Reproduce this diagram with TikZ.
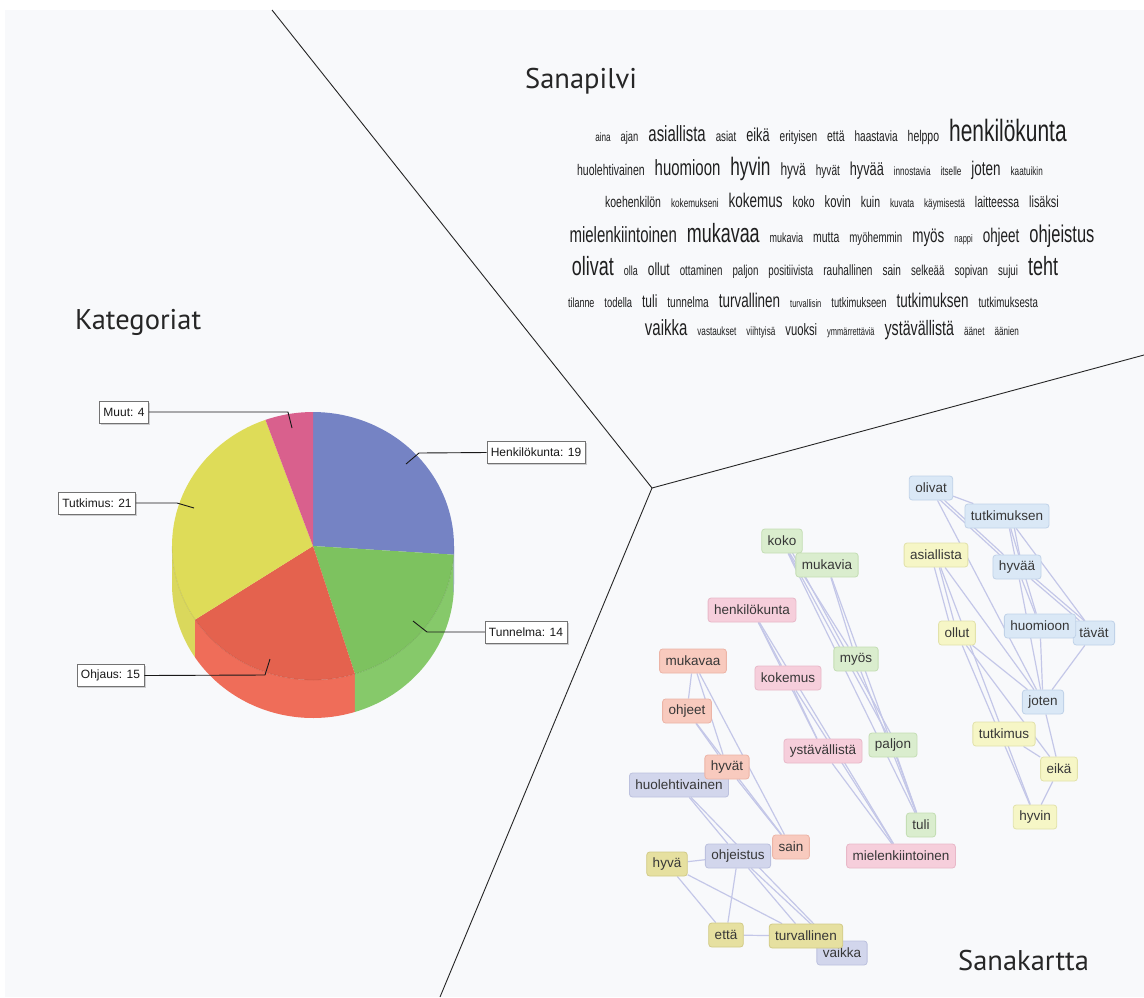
\documentclass[tikz,border=0pt]{standalone}
\usepackage{fontspec}
\setmainfont{Liberation Sans}
\newfontfamily\titlefont{PT Sans}
\newfontfamily\cloudfont[FakeStretch=0.68]{Liberation Sans}
\usetikzlibrary{shadows}
\pgfdeclarelayer{backlayer}
\pgfdeclarelayer{edgelayer}
\pgfsetlayers{backlayer,edgelayer,main}

\definecolor{bgpanel}{RGB}{248,249,251}
\definecolor{pieblue}{RGB}{117,131,196}
\definecolor{piegreen}{RGB}{125,194,95}
\definecolor{piegreenside}{RGB}{134,201,106}
\definecolor{piered}{RGB}{228,98,78}
\definecolor{pieredside}{RGB}{239,109,89}
\definecolor{pieyellow}{RGB}{222,220,88}
\definecolor{pieyellowside}{RGB}{218,216,92}
\definecolor{piepink}{RGB}{217,96,141}
\definecolor{edgecol}{RGB}{196,199,232}
\definecolor{fgreen}{RGB}{218,237,206}
\definecolor{dgreen}{RGB}{196,222,180}
\definecolor{fpink}{RGB}{246,206,219}
\definecolor{dpink}{RGB}{232,184,200}
\definecolor{fsalmon}{RGB}{248,202,190}
\definecolor{dsalmon}{RGB}{236,180,166}
\definecolor{flav}{RGB}{210,214,236}
\definecolor{dlav}{RGB}{188,193,222}
\definecolor{fsky}{RGB}{218,232,246}
\definecolor{dsky}{RGB}{192,210,232}
\definecolor{fyel}{RGB}{246,246,198}
\definecolor{dyel}{RGB}{226,226,170}
\definecolor{folive}{RGB}{230,224,160}
\definecolor{dolive}{RGB}{210,203,136}
\definecolor{wmtext}{RGB}{55,55,55}

\newcommand\cwd[2]{{\fontsize{#1}{#1}\selectfont #2}}
\newcommand\cwgap{\hspace{10pt}}

\tikzset{
  divider/.style={draw=black!85, line width=0.9pt},
  titletext/.style={font=\titlefont\fontsize{28.5}{28.5}\selectfont, text=black!85, inner sep=0pt, anchor=base west},
  cloudline/.style={font=\cloudfont, text=black!88, inner sep=0pt, anchor=base},
  plabel/.style={draw=black!55, fill=white, font=\fontsize{12}{12}\selectfont, text=black!90,
    inner xsep=4pt, inner ysep=0pt, minimum height=22pt,
    drop shadow={shadow xshift=1.5pt, shadow yshift=-1.5pt, opacity=0.35}},
  leader/.style={draw=black!90, line width=0.9pt},
  wm/.style={rounded corners=3pt, font=\fontsize{13.5}{13.5}\selectfont, text=wmtext,
    minimum height=24pt, inner xsep=6pt, inner ysep=0pt, line width=0.8pt},
  wgreen/.style={wm, fill=fgreen, draw=dgreen},
  wpink/.style={wm, fill=fpink, draw=dpink},
  wsalmon/.style={wm, fill=fsalmon, draw=dsalmon},
  wlav/.style={wm, fill=flav, draw=dlav},
  wsky/.style={wm, fill=fsky, draw=dsky},
  wyel/.style={wm, fill=fyel, draw=dyel},
  wolive/.style={wm, fill=folive, draw=dolive},
  wedge/.style={draw=edgecol, line width=1.2pt},
}

\begin{document}
\begin{tikzpicture}[x=1pt,y=-1pt]
\useasboundingbox (0,0) rectangle (1144,997);
\begin{pgfonlayer}{backlayer}
\fill[white] (0,0) rectangle (1144,997);
\fill[bgpanel] (5,10) rectangle (1144,997);
\end{pgfonlayer}

% dividers
\coordinate (ctr) at (652,488);
\coordinate (dTop) at (272,10);
\coordinate (dRight) at (1144,355);
\coordinate (dBottom) at (440,997);
\draw[divider] (ctr) -- (dTop);
\draw[divider] (ctr) -- (dRight);
\draw[divider] (ctr) -- (dBottom);

% titles
\node[titletext] (tSanapilvi) at (525,88) {Sanapilvi};
\node[titletext] (tKategoriat) at (75,329) {Kategoriat};
\node[titletext] (tSanakartta) at (958,970) {Sanakartta};

% word cloud
\node[cloudline] (cl1) at (831,141) {\cwd{12}{aina}\cwgap\cwd{13.8}{ajan}\cwgap\cwd{22}{asiallista}\cwgap\cwd{14.3}{asiat}\cwgap\cwd{18.7}{eikä}\cwgap\cwd{14.8}{erityisen}\cwgap\cwd{15.4}{että}\cwgap\cwd{14.8}{haastavia}\cwgap\cwd{15.4}{helppo}\cwgap\cwd{30.8}{henkilökunta}};
\node[cloudline] (cl2) at (810,175) {\cwd{15.4}{huolehtivainen}\cwgap\cwd{22}{huomioon}\cwgap\cwd{25.3}{hyvin}\cwgap\cwd{17.6}{hyvä}\cwgap\cwd{14.8}{hyvät}\cwgap\cwd{18.7}{hyvää}\cwgap\cwd{12}{innostavia}\cwgap\cwd{12}{itselle}\cwgap\cwd{19.8}{joten}\cwgap\cwd{12}{kaatuikin}};
\node[cloudline] (cl3) at (832,207) {\cwd{15.4}{koehenkilön}\cwgap\cwd{12}{kokemukseni}\cwgap\cwd{19.8}{kokemus}\cwgap\cwd{15.4}{koko}\cwgap\cwd{16.5}{kovin}\cwgap\cwd{15.4}{kuin}\cwgap\cwd{12}{kuvata}\cwgap\cwd{12}{käymisestä}\cwgap\cwd{15.4}{laitteessa}\cwgap\cwd{16}{lisäksi}};
\node[cloudline] (cl4) at (832,242) {\cwd{22}{mielenkiintoinen}\cwgap\cwd{26.4}{mukavaa}\cwgap\cwd{13.2}{mukavia}\cwgap\cwd{15.4}{mutta}\cwgap\cwd{14.3}{myöhemmin}\cwgap\cwd{19.8}{myös}\cwgap\cwd{11}{nappi}\cwgap\cwd{19.8}{ohjeet}\cwgap\cwd{24.2}{ohjeistus}};
\node[cloudline] (cl5) at (815,275) {\cwd{26.4}{olivat}\cwgap\cwd{13.2}{olla}\cwgap\cwd{17.6}{ollut}\cwgap\cwd{14.3}{ottaminen}\cwgap\cwd{14.3}{paljon}\cwgap\cwd{14.3}{positiivista}\cwgap\cwd{14.8}{rauhallinen}\cwgap\cwd{14.8}{sain}\cwgap\cwd{14.3}{selkeää}\cwgap\cwd{14.3}{sopivan}\cwgap\cwd{14.3}{sujui}\cwgap\cwd{26.4}{teht}};
\node[cloudline] (cl6) at (803,307) {\cwd{13.2}{tilanne}\cwgap\cwd{13.8}{todella}\cwgap\cwd{17.6}{tuli}\cwgap\cwd{14.8}{tunnelma}\cwgap\cwd{19.8}{turvallinen}\cwgap\cwd{11}{turvallisin}\cwgap\cwd{13.8}{tutkimukseen}\cwgap\cwd{19.8}{tutkimuksen}\cwgap\cwd{14.3}{tutkimuksesta}};
\node[cloudline] (cl7) at (832,335) {\cwd{22}{vaikka}\cwgap\cwd{12}{vastaukset}\cwgap\cwd{12}{viihtyisä}\cwgap\cwd{16.5}{vuoksi}\cwgap\cwd{11}{ymmärrettäviä}\cwgap\cwd{20.9}{ystävällistä}\cwgap\cwd{12}{äänet}\cwgap\cwd{12}{äänien}};

% pie chart (3D)
\def\pcx{313}\def\pcy{546}\def\prx{141}\def\pry{134}\def\pdp{38}
% sides
\fill[pieyellowside] plot[domain=180:213.3,samples=30] ({\pcx+\prx*cos(\x)},{\pcy-\pry*sin(\x)}) -- plot[domain=213.3:180,samples=30] ({\pcx+\prx*cos(\x)},{\pcy+\pdp-\pry*sin(\x)}) -- cycle;
\fill[pieredside] plot[domain=213.3:287.3,samples=40] ({\pcx+\prx*cos(\x)},{\pcy-\pry*sin(\x)}) -- plot[domain=287.3:213.3,samples=40] ({\pcx+\prx*cos(\x)},{\pcy+\pdp-\pry*sin(\x)}) -- cycle;
\fill[piegreenside] plot[domain=287.3:356.3,samples=40] ({\pcx+\prx*cos(\x)},{\pcy-\pry*sin(\x)}) -- plot[domain=356.3:287.3,samples=40] ({\pcx+\prx*cos(\x)},{\pcy+\pdp-\pry*sin(\x)}) -- cycle;
\fill[pieblue] plot[domain=356.3:360,samples=5] ({\pcx+\prx*cos(\x)},{\pcy-\pry*sin(\x)}) -- plot[domain=360:356.3,samples=5] ({\pcx+\prx*cos(\x)},{\pcy+\pdp-\pry*sin(\x)}) -- cycle;
% top faces
\fill[pieblue] (\pcx,\pcy) -- plot[domain=-3.7:90,samples=40] ({\pcx+\prx*cos(\x)},{\pcy-\pry*sin(\x)}) -- cycle;
\fill[piegreen] (\pcx,\pcy) -- plot[domain=-72.7:-3.7,samples=40] ({\pcx+\prx*cos(\x)},{\pcy-\pry*sin(\x)}) -- cycle;
\fill[piered] (\pcx,\pcy) -- plot[domain=-146.7:-72.7,samples=40] ({\pcx+\prx*cos(\x)},{\pcy-\pry*sin(\x)}) -- cycle;
\fill[pieyellow] (\pcx,\pcy) -- plot[domain=109.7:213.3,samples=40] ({\pcx+\prx*cos(\x)},{\pcy-\pry*sin(\x)}) -- cycle;
\fill[piepink] (\pcx,\pcy) -- plot[domain=90:109.7,samples=10] ({\pcx+\prx*cos(\x)},{\pcy-\pry*sin(\x)}) -- cycle;
\draw[black, opacity=0.08, line width=0.8pt] plot[domain=180:360,samples=60] ({\pcx+\prx*cos(\x)},{\pcy-\pry*sin(\x)});

% pie labels
\node[plabel] (lMuut) at (124,412) {Muut: 4};
\node[plabel] (lHenk) at (536,452.5) {Henkilökunta: 19};
\node[plabel] (lTut) at (97,503) {Tutkimus: 21};
\node[plabel] (lTun) at (526,632) {Tunnelma: 14};
\node[plabel] (lOhj) at (110.5,675.5) {Ohjaus: 15};
\coordinate (kMuut1) at (288,412); \coordinate (kMuut2) at (292,428);
\coordinate (kHenk1) at (419,453); \coordinate (kHenk2) at (406,464);
\coordinate (kTut1) at (177,503);  \coordinate (kTut2) at (194,508);
\coordinate (kTun1) at (427,632);  \coordinate (kTun2) at (413,621);
\coordinate (kOhj1) at (265,675);  \coordinate (kOhj2) at (270,659);
\draw[leader] (lMuut.east) -- (kMuut1) -- (kMuut2);
\draw[leader] (lHenk.west) -- (kHenk1) -- (kHenk2);
\draw[leader] (lTut.east) -- (kTut1) -- (kTut2);
\draw[leader] (lTun.west) -- (kTun1) -- (kTun2);
\draw[leader] (lOhj.east) -- (kOhj1) -- (kOhj2);

% word map nodes
\node[wsky] (nOlivat) at (931,488) {olivat};
\node[wsky] (nTutkimuksen) at (1007,516) {tutkimuksen};
\node[wyel] (nAsiallista) at (936,555) {asiallista};
\node[wsky] (nHyvaa) at (1017,567) {hyvää};
\node[wyel] (nOllut) at (957,633) {ollut};
\node[wsky, anchor=east] (nTavat) at (1115,633) {tävät};
\node[wsky] (nHuomioon) at (1040,626) {huomioon};
\node[wsky] (nJoten) at (1043,702) {joten};
\node[wyel] (nTutkimus) at (1004,734) {tutkimus};
\node[wyel] (nEika) at (1059,769) {eikä};
\node[wyel] (nHyvin) at (1035,817) {hyvin};

\node[wgreen] (nKoko) at (782,541) {koko};
\node[wgreen] (nMukavia) at (827,565) {mukavia};
\node[wgreen] (nMyos) at (856,659) {myös};
\node[wgreen] (nPaljon) at (893,745) {paljon};
\node[wgreen] (nTuli) at (921,825) {tuli};
\node[wpink] (nHenk) at (752,610) {henkilökunta};
\node[wpink] (nKokemus) at (788,678) {kokemus};
\node[wpink] (nYstav) at (823,751) {ystävällistä};
\node[wpink] (nMielen) at (901,856) {mielenkiintoinen};

\node[wsalmon] (nMukavaa) at (693,661) {mukavaa};
\node[wsalmon] (nOhjeet) at (687,711) {ohjeet};
\node[wlav] (nHuoleh) at (679,785) {huolehtivainen};
\node[wsalmon] (nHyvat) at (727,767) {hyvät};
\node[wsalmon] (nSain) at (791,847) {sain};
\node[wlav] (nOhjeistus) at (738,856) {ohjeistus};
\node[wolive] (nHyva) at (667,864) {hyvä};
\node[wolive] (nEtta) at (726,935) {että};
\node[wlav] (nVaikka) at (842,953) {vaikka};
\node[wolive] (nTurva) at (806,936) {turvallinen};

\begin{pgfonlayer}{edgelayer}
% right cluster
\draw[wedge] (nOlivat) -- (nTutkimuksen);
\draw[wedge] (nOlivat) -- (nHyvaa);
\draw[wedge] ([xshift=-4pt]nOlivat.center) -- ([xshift=-4pt]nHyvaa.center);
\draw[wedge] (nOlivat) -- (nJoten);
\draw[wedge] (nTutkimuksen) -- (nHyvaa);
\draw[wedge] ([xshift=5pt]nTutkimuksen.center) -- ([xshift=5pt]nHyvaa.center);
\draw[wedge] (nTutkimuksen) -- (nTavat);
\draw[wedge] (nTutkimuksen) -- (nHuomioon);
\draw[wedge] (nHyvaa) -- (nHuomioon);
\draw[wedge] (nHyvaa) -- (nTavat);
\draw[wedge] ([yshift=4pt]nHyvaa.center) -- ([yshift=4pt]nTavat.center);
\draw[wedge] (nHyvaa) -- (nJoten);
\draw[wedge] (nHuomioon) -- (nJoten);
\draw[wedge] (nTavat) -- (nJoten);
\draw[wedge] (nAsiallista) -- (nOllut);
\draw[wedge] ([xshift=-5pt]nAsiallista.center) -- ([xshift=-5pt]nOllut.center);
\draw[wedge] (nAsiallista) -- (nJoten);
\draw[wedge] (nAsiallista) -- (nHyvin);
\draw[wedge] (nOllut) -- (nJoten);
\draw[wedge] (nOllut) -- (nEika);
\draw[wedge] (nOllut) -- (nHyvin);
\draw[wedge] (nTutkimus) -- (nEika);
\draw[wedge] (nJoten) -- (nEika);
\draw[wedge] (nEika) -- (nHyvin);
% middle cluster
\draw[wedge] (nKoko) -- (nMyos);
\draw[wedge] (nKoko) -- (nPaljon);
\draw[wedge] ([xshift=4pt]nKoko.center) -- ([xshift=4pt]nPaljon.center);
\draw[wedge] (nKoko) -- (nTuli);
\draw[wedge] (nMukavia) -- (nMyos);
\draw[wedge] (nMukavia) -- (nTuli);
\draw[wedge] (nMyos) -- (nTuli);
\draw[wedge] (nPaljon) -- (nTuli);
\draw[wedge] (nHenk) -- (nKokemus);
\draw[wedge] (nHenk) -- (nYstav);
\draw[wedge] (nHenk) -- (nMielen);
\draw[wedge] (nKokemus) -- (nYstav);
\draw[wedge] (nKokemus) -- (nMielen);
\draw[wedge] (nYstav) -- (nMielen);
% left cluster
\draw[wedge] (nMukavaa) -- (nOhjeet);
\draw[wedge] (nMukavaa) -- (nHyvat);
\draw[wedge] (nMukavaa) -- (nSain);
\draw[wedge] (nOhjeet) -- (nHyvat);
\draw[wedge] (nOhjeet) -- (nSain);
\draw[wedge] (nHyvat) -- (nSain);
\draw[wedge] (nHuoleh) -- (nOhjeistus);
\draw[wedge] (nHuoleh) -- (nVaikka);
\draw[wedge] (nOhjeistus) -- (nHyva);
\draw[wedge] (nOhjeistus) -- (nEtta);
\draw[wedge] (nOhjeistus) -- (nTurva);
\draw[wedge] (nOhjeistus) -- (nVaikka);
\draw[wedge] (nHyva) -- (nEtta);
\draw[wedge] (nHyva) -- (nTurva);
\draw[wedge] (nEtta) -- (nTurva);
\end{pgfonlayer}
\end{tikzpicture}
\end{document}
